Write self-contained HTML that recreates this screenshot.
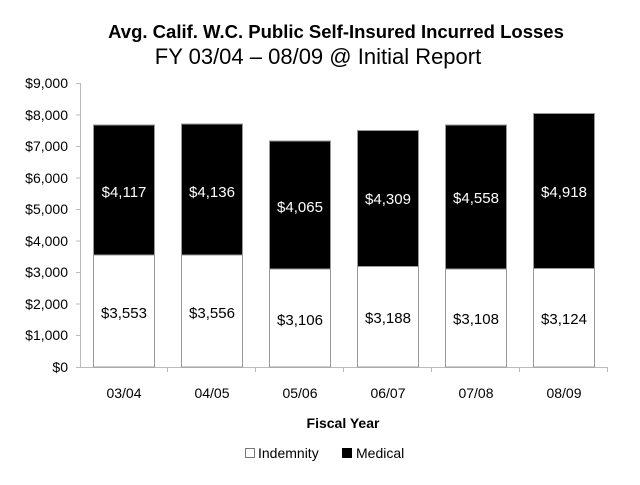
<!DOCTYPE html>
<html><head><style>
body{margin:0;background:#fff;}
svg text{font-family:"Liberation Sans",sans-serif;}
</style></head><body>
<svg width="640" height="480" viewBox="0 0 640 480" xmlns="http://www.w3.org/2000/svg">
<text x="336" y="38" text-anchor="middle" font-size="18.5" font-weight="bold">Avg. Calif. W.C. Public Self-Insured Incurred Losses</text>
<text x="318" y="64" text-anchor="middle" font-size="22">FY 03/04 – 08/09 @ Initial Report</text>
<g font-size="14" text-anchor="end" fill="#000">
<text x="68" y="372">$0</text>
<text x="68" y="340">$1,000</text>
<text x="68" y="309">$2,000</text>
<text x="68" y="277">$3,000</text>
<text x="68" y="246">$4,000</text>
<text x="68" y="214">$5,000</text>
<text x="68" y="183">$6,000</text>
<text x="68" y="151">$7,000</text>
<text x="68" y="120">$8,000</text>
<text x="68" y="88">$9,000</text>
</g>
<g stroke="#bbb" stroke-width="1">
<line x1="80.5" y1="83" x2="80.5" y2="367"/>
<line x1="76" y1="83.5" x2="80" y2="83.5"/>
<line x1="76" y1="115" x2="80" y2="115"/>
<line x1="76" y1="146.5" x2="80" y2="146.5"/>
<line x1="76" y1="178" x2="80" y2="178"/>
<line x1="76" y1="209.5" x2="80" y2="209.5"/>
<line x1="76" y1="241" x2="80" y2="241"/>
<line x1="76" y1="272.5" x2="80" y2="272.5"/>
<line x1="76" y1="304" x2="80" y2="304"/>
<line x1="76" y1="335.5" x2="80" y2="335.5"/>
<line x1="76" y1="367.5" x2="607" y2="367.5"/>
<line x1="167.5" y1="367" x2="167.5" y2="372"/>
<line x1="255.5" y1="367" x2="255.5" y2="372"/>
<line x1="343.5" y1="367" x2="343.5" y2="372"/>
<line x1="431.5" y1="367" x2="431.5" y2="372"/>
<line x1="519.5" y1="367" x2="519.5" y2="372"/>
<line x1="607.5" y1="367" x2="607.5" y2="372"/>
</g>
<g stroke="#999" stroke-width="1">
<rect x="93.5" y="255" width="61" height="112" fill="#fff"/>
<rect x="93.5" y="125" width="61" height="130" fill="#000"/>
<rect x="181.5" y="255" width="61" height="112" fill="#fff"/>
<rect x="181.5" y="124" width="61" height="131" fill="#000"/>
<rect x="269.5" y="269" width="61" height="98" fill="#fff"/>
<rect x="269.5" y="141" width="61" height="128" fill="#000"/>
<rect x="357.5" y="266.5" width="61" height="100.5" fill="#fff"/>
<rect x="357.5" y="130.5" width="61" height="136" fill="#000"/>
<rect x="445.5" y="269" width="61" height="98" fill="#fff"/>
<rect x="445.5" y="125" width="61" height="144" fill="#000"/>
<rect x="533.5" y="268.5" width="61" height="98.5" fill="#fff"/>
<rect x="533.5" y="113.5" width="61" height="155" fill="#000"/>
</g>
<g font-size="15" text-anchor="middle">
<text x="124" y="197" fill="#fff">$4,117</text>
<text x="212" y="197" fill="#fff">$4,136</text>
<text x="300" y="212" fill="#fff">$4,065</text>
<text x="388" y="204" fill="#fff">$4,309</text>
<text x="476" y="203" fill="#fff">$4,558</text>
<text x="564" y="197" fill="#fff">$4,918</text>
<text x="124" y="318">$3,553</text>
<text x="212" y="318">$3,556</text>
<text x="300" y="325">$3,106</text>
<text x="388" y="323">$3,188</text>
<text x="476" y="324">$3,108</text>
<text x="564" y="324">$3,124</text>
</g>
<g font-size="14" text-anchor="middle">
<text x="124" y="398">03/04</text>
<text x="212" y="398">04/05</text>
<text x="300" y="398">05/06</text>
<text x="388" y="398">06/07</text>
<text x="476" y="398">07/08</text>
<text x="564" y="398">08/09</text>
</g>
<text x="343" y="428" text-anchor="middle" font-size="14" font-weight="bold">Fiscal Year</text>
<rect x="245.5" y="448.5" width="9" height="9" fill="#fff" stroke="#777"/>
<text x="258" y="458" font-size="14">Indemnity</text>
<rect x="342" y="448" width="10" height="10" fill="#000"/>
<text x="356" y="458" font-size="14">Medical</text>
</svg>
</body></html>
